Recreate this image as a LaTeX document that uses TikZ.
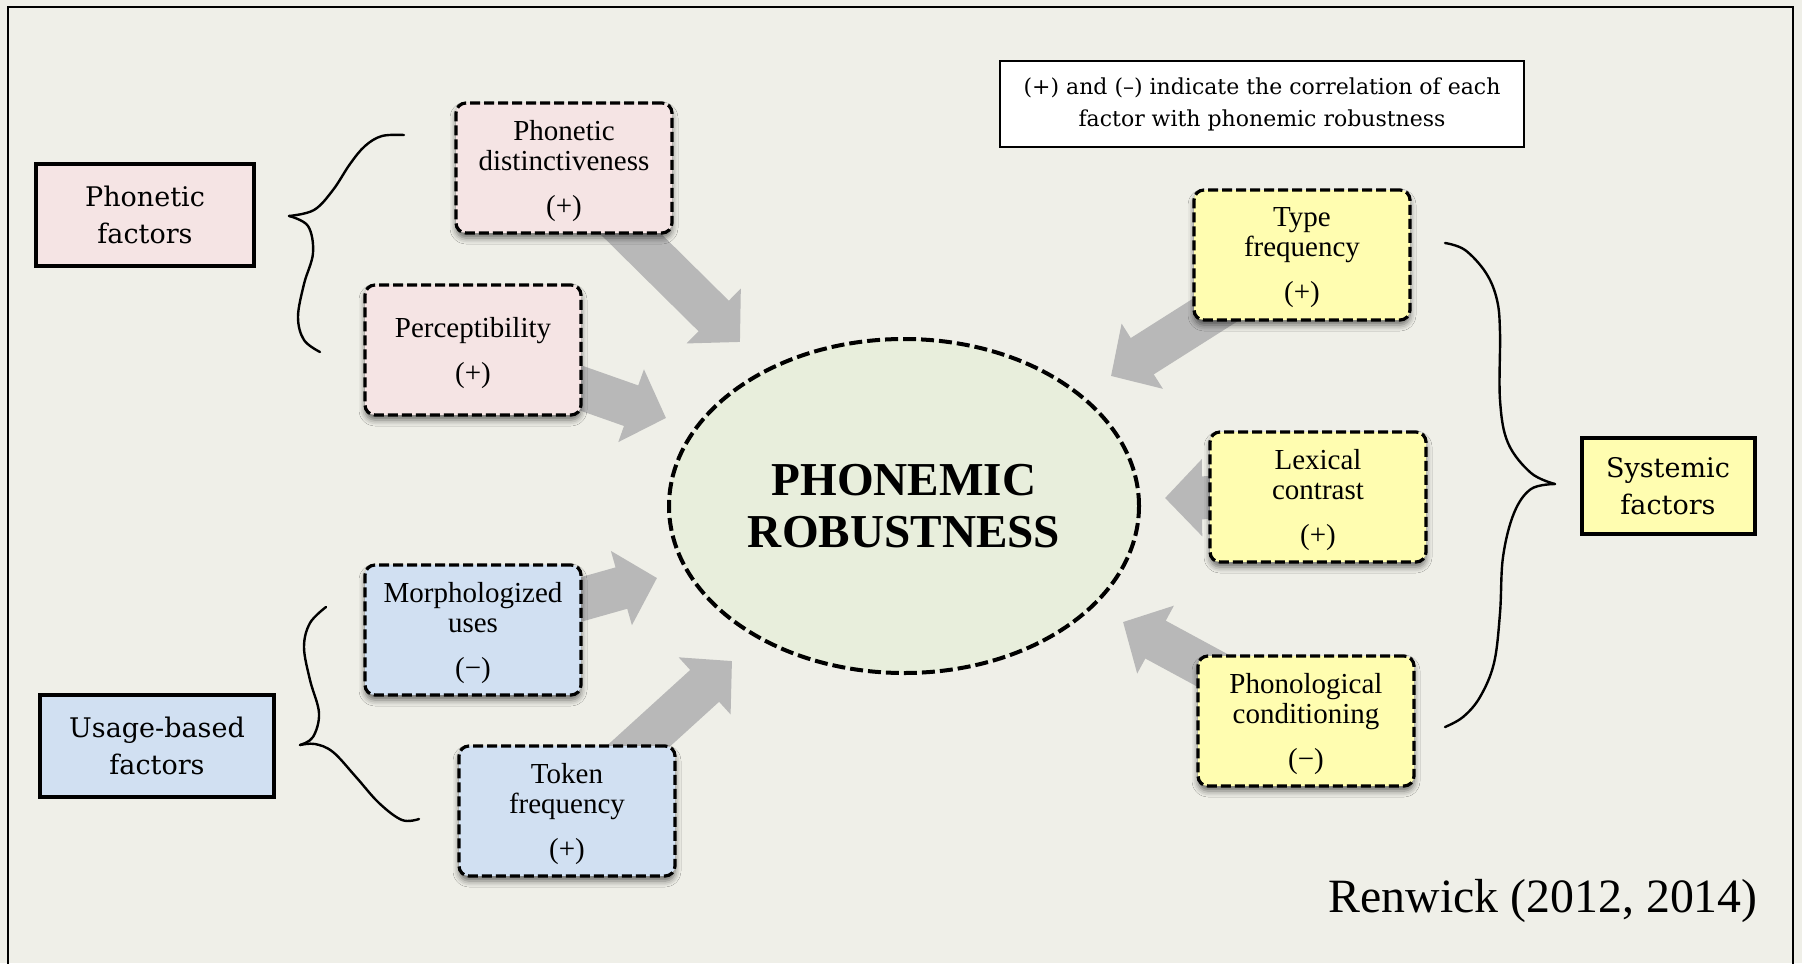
\documentclass[tikz,border=0pt]{standalone}
\usepackage{fontspec}
\setmainfont{Liberation Serif}
\newfontfamily\labelfont{DejaVu Serif}
\usetikzlibrary{arrows.meta,shapes.geometric,shadows.blur,backgrounds}

\definecolor{paper}{RGB}{239,239,232}
\definecolor{pinkbox}{RGB}{245,228,228}
\definecolor{bluebox}{RGB}{209,224,242}
\definecolor{yellowbox}{RGB}{255,253,176}
\definecolor{robfill}{RGB}{232,238,220}
\definecolor{arrowgray}{RGB}{184,184,184}

\tikzset{
  factor/.style={draw,line width=2pt,inner sep=0pt,align=center,
    font=\labelfont\fontsize{13.5}{18.5}\selectfont},
  item/.style={draw,line width=1.6pt,dash pattern=on 5pt off 2pt,rounded corners=5pt,
    minimum width=108pt,minimum height=65pt,inner sep=0pt,align=center,text depth=0pt,
    font=\fontsize{14.5}{15}\selectfont,
    blur shadow={shadow xshift=0pt,shadow yshift=-2.5pt,shadow blur radius=3pt,shadow opacity=55}},
  fatarrow/.style={draw=arrowgray,line width=21.5pt,-{Triangle[length=18.5pt,width=37.5pt]}},
  brace/.style={line width=1.2pt,line cap=round,line join=round},
}

\begin{document}
\begin{tikzpicture}[x=0.5pt,y=-0.5pt]
\useasboundingbox (0,0) rectangle (1802,963);

% centre
\node[ellipse,draw,line width=2pt,dash pattern=on 6.5pt off 2.5pt,fill=robfill,
  minimum width=235pt,minimum height=167pt,align=center,
  font=\bfseries\fontsize{23.6}{26}\selectfont] (rob) at (904,506) {PHONEMIC\\ROBUSTNESS};

% phonetic factors
\node[factor,fill=pinkbox,minimum width=109pt,minimum height=51pt] (pfac) at (145,215) {Phonetic\\factors};
\node[item,fill=pinkbox] (pd) at (564,168) {Phonetic\\distinctiveness\\[7.5pt](+)};
\node[item,fill=pinkbox] (pe) at (473,350) {Perceptibility\\[7.5pt](+)};

% usage-based factors
\node[factor,fill=bluebox,minimum width=117pt,minimum height=51pt] (ufac) at (157,746) {Usage-based\\factors};
\node[item,fill=bluebox] (mu) at (473,630) {Morphologized\\uses\\[7.5pt](−)};
\node[item,fill=bluebox] (tf) at (567,811) {Token\\frequency\\[7.5pt](+)};

% systemic factors
\node[factor,fill=yellowbox,minimum width=86.5pt,minimum height=48pt] (sfac) at (1668,486) {Systemic\\factors};
\node[item,fill=yellowbox] (ty) at (1302,255) {Type\\frequency\\[7.5pt](+)};
\node[item,fill=yellowbox] (lc) at (1318,497) {Lexical\\contrast\\[7.5pt](+)};
\node[item,fill=yellowbox] (pc) at (1306,721) {Phonological\\conditioning\\[7.5pt](−)};

\node[draw,line width=1pt,fill=white,minimum width=262pt,minimum height=42.5pt,align=center,
  font=\labelfont\fontsize{11}{16}\selectfont] (note) at (1262,104)
  {(+) and (–) indicate the correlation of each\\factor with phonemic robustness};

\node[anchor=base east,inner sep=0pt,font=\fontsize{23.9}{26}\selectfont] (cite) at (1758,912) {Renwick (2012, 2014)};

% arrow tips
\coordinate (tpd) at (740,342);
\coordinate (tpe) at (666,418);
\coordinate (tmu) at (657,578);
\coordinate (ttf) at (732,661);
\coordinate (tty) at (1111,376);
\coordinate (tlc) at (1165,498);
\coordinate (tpc) at (1123,622);

\begin{pgfonlayer}{background}
\fill[paper] (0,0) rectangle (1802,963);
\draw[line width=1pt] (8,990) -- (8,7) -- (1793,7) -- (1793,990);
\draw[fatarrow] (pd.center) -- (tpd);
\draw[fatarrow] (pe.center) -- (tpe);
\draw[fatarrow] (mu.center) -- (tmu);
\draw[fatarrow] (tf.center) -- (ttf);
\draw[fatarrow] (ty.center) -- (tty);
\draw[fatarrow] (lc.center) -- (tlc);
\draw[fatarrow] (pc.center) -- (tpc);
\end{pgfonlayer}

% braces
\draw[brace] plot[smooth,tension=0.6] coordinates {(404,135) (382,136) (365,146) (350,164) (333,190) (314,210) (289,216)};
\draw[brace] plot[smooth,tension=0.6] coordinates {(289,216) (308,226) (313,253) (304,284) (298,317) (304,340) (320,352)};
\draw[brace] plot[smooth,tension=0.6] coordinates {(326,607) (310,623) (304,647) (310,680) (319,713) (313,737) (300,745)};
\draw[brace] plot[smooth,tension=0.6] coordinates {(300,745) (315,744) (333,752) (356,777) (379,803) (402,820) (419,819)};
\draw[brace] plot[smooth,tension=0.6] coordinates {(1445,243) (1465,250) (1486,273) (1497,300) (1500,333) (1500,400) (1508,443) (1531,473) (1555,484)};
\draw[brace] plot[smooth,tension=0.6] coordinates {(1555,484) (1531,489) (1514,513) (1503,557) (1500,613) (1494,663) (1480,697) (1463,717) (1445,727)};
\end{tikzpicture}
\end{document}
